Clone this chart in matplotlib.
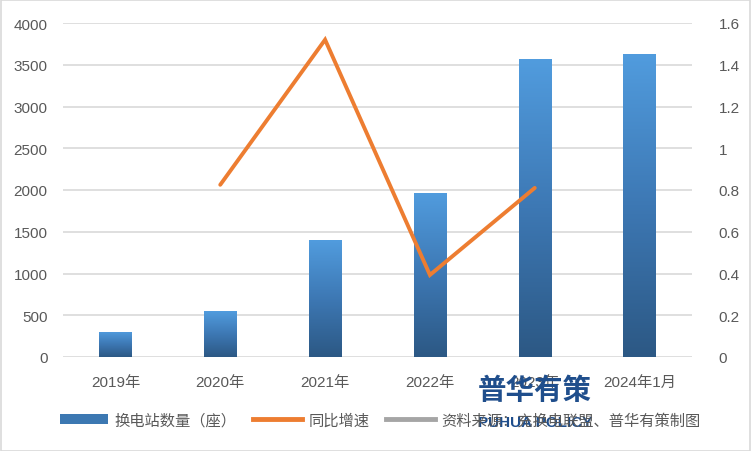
import matplotlib
matplotlib.use("Agg")
import matplotlib.pyplot as plt
import numpy as np
from matplotlib.colors import LinearSegmentedColormap
from matplotlib.lines import Line2D
from matplotlib.patches import Patch

plt.rcParams['font.family'] = ['Liberation Sans', 'Noto Sans CJK SC', 'DejaVu Sans']

categories = ["2019年", "2020年", "2021年", "2022年", "2023年", "2024年1月"]
stations = [300, 550, 1400, 1970, 3567, 3630]
growth = [None, 0.825, 1.52, 0.393, 0.81, None]
left_ticks = [0, 500, 1000, 1500, 2000, 2500, 3000, 3500, 4000]
right_ticks = [0, 0.2, 0.4, 0.6, 0.8, 1.0, 1.2, 1.4, 1.6]

tick_color = "#595959"
grid_color = "#D9D9D9"

fig = plt.figure(figsize=(7.52, 4.52), dpi=100)
fig.patch.set_facecolor("white")
ax = fig.add_axes([63/752, 1-358/452, (692-63)/752, (358-24)/452])
ax2 = ax.twinx()

x = np.arange(len(categories))
bars = ax.bar(x, stations, width=0.31, color="#4A8BD0", zorder=2)
cmap = LinearSegmentedColormap.from_list("g", ["#2C5884", "#3D78B4", "#519CDE"])
grad = np.linspace(0, 1, 256).reshape(-1, 1)
for b in bars:
    x0, y0 = b.get_x(), b.get_y()
    w, h = b.get_width(), b.get_height()
    im = ax.imshow(grad, cmap=cmap, origin="lower", aspect="auto",
                   extent=[x0, x0 + w, y0, y0 + h], zorder=3)
    im.set_clip_path(b)

ax.set_xlim(-0.5, len(categories) - 0.5)
ax.set_ylim(0, 4000)
ax.set_yticks(left_ticks)
ax.set_xticks(x)
ax.set_xticklabels(categories)
ax.yaxis.grid(True, color=grid_color, linewidth=1.2, zorder=0)
ax.set_axisbelow(True)
for s in ax.spines.values():
    s.set_visible(False)
for s in ax2.spines.values():
    s.set_visible(False)
ax.tick_params(axis="y", length=0, colors=tick_color, labelsize=11, pad=11)
ax.tick_params(axis="x", length=0, colors=tick_color, labelsize=11, pad=13)

gx = [i for i, g in enumerate(growth) if g is not None]
gy = [g for g in growth if g is not None]
ax2.plot(gx, gy, color="#ED7D31", linewidth=2.8, solid_capstyle="round",
         solid_joinstyle="miter", zorder=4)
ax2.set_ylim(0, 1.6)
ax2.set_yticks(right_ticks)
ax2.set_yticklabels(["%g" % t for t in right_ticks])
ax2.tick_params(axis="y", length=0, colors=tick_color, labelsize=11, pad=19)

handles = [
    Patch(facecolor="#3C78B2", edgecolor="none"),
    Line2D([0], [0], color="#ED7D31", linewidth=3.5),
    Line2D([0], [0], color="#A5A5A5", linewidth=3.5),
]
labels = ["换电站数量（座）", "同比增速", "资料来源：充换电联盟、普华有策制图"]
leg = fig.legend(handles, labels, loc="center", bbox_to_anchor=(380/752, 1-421/452),
                 ncol=3, frameon=False, fontsize=11, handlelength=3.2,
                 handleheight=0.6, columnspacing=1.1, handletextpad=0.4)
for t in leg.get_texts():
    t.set_color(tick_color)

fig.text(535/752, 1-391/452, "普华有策", fontsize=20.5, fontweight="bold",
         color="#1F4E8C", ha="center", va="center", family=["Noto Sans CJK SC"])
fig.text(535/752, 1-423/452, "PUHUA POLICY", fontsize=11, fontweight="bold",
         color="#1F4E8C", ha="center", va="center", family=["Liberation Sans Narrow", "Liberation Sans"])

border = plt.Rectangle((0.001, 0.001), 0.997, 0.997, transform=fig.transFigure,
                       fill=False, edgecolor="#D9D9D9", linewidth=1.2)
fig.patches.append(border)

fig.savefig("out.png", dpi=100)
